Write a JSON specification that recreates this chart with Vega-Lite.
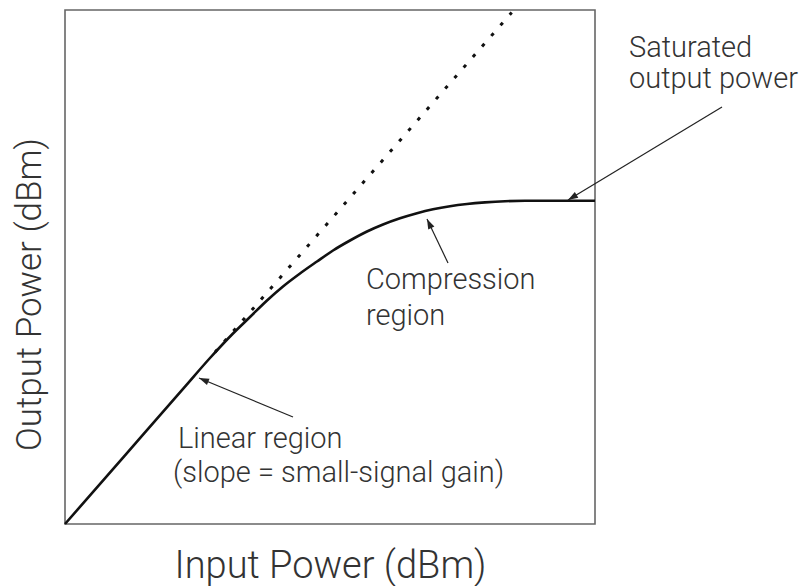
{
  "$schema": "https://vega.github.io/schema/vega-lite/v6.json",
  "width": 530,
  "height": 514,
  "autosize": "none",
  "padding": {"left": 65, "top": 10, "right": 209, "bottom": 62},
  "background": "white",
  "config": {
    "view": {"stroke": "#666666", "strokeWidth": 1.6},
    "font": "Roboto"
  },
  "datasets": {
    "curve": [
      {"x": 0, "y": 0}, {"x": 60, "y": 68.7}, {"x": 120, "y": 137.4}, {"x": 145, "y": 166},
      {"x": 168, "y": 190.5}, {"x": 185, "y": 207}, {"x": 202, "y": 223.5}, {"x": 218, "y": 237.5},
      {"x": 235, "y": 250.5}, {"x": 252, "y": 262.5}, {"x": 268, "y": 273.5}, {"x": 285, "y": 283.5},
      {"x": 302, "y": 292.5}, {"x": 318, "y": 299.5}, {"x": 335, "y": 305.7}, {"x": 352, "y": 310.8},
      {"x": 368, "y": 314.7}, {"x": 385, "y": 317.8}, {"x": 402, "y": 320}, {"x": 420, "y": 321.6},
      {"x": 440, "y": 322.8}, {"x": 460, "y": 323.3}, {"x": 530, "y": 323.3}
    ],
    "ideal": [
      {"x": 150, "y": 171.8}, {"x": 446.7, "y": 511.5}
    ],
    "arrows": [
      {"label": "sat", "x": 657, "y": 417, "x2": 503, "y2": 324},
      {"label": "comp", "x": 383, "y": 261, "x2": 362, "y2": 305},
      {"label": "lin", "x": 228, "y": 107, "x2": 134, "y2": 146}
    ],
    "notes": [
      {"t": "Saturated", "x": 564, "y": 467},
      {"t": "output power", "x": 564, "y": 436},
      {"t": "Compression", "x": 301, "y": 235},
      {"t": "region", "x": 301, "y": 199},
      {"t": "Linear region", "x": 113, "y": 76},
      {"t": "(slope = small-signal gain)", "x": 108, "y": 42}
    ]
  },
  "layer": [
    {
      "data": {"name": "ideal"},
      "mark": {"type": "line", "color": "#111111", "strokeWidth": 3, "strokeDash": [3.5, 10.5], "strokeCap": "butt"},
      "encoding": {
        "x": {"field": "x", "type": "quantitative", "scale": {"domain": [0, 530], "nice": false, "zero": false},
              "axis": {"title": "Input Power (dBm)", "labels": false, "ticks": false, "domain": false, "grid": false,
                       "titleFont": "Roboto", "titleFontSize": 38, "titleFontWeight": 300, "titleColor": "#333333",
                       "titleBaseline": "alphabetic", "titleX": 265, "titleY": 53, "titleAlign": "center"}},
        "y": {"field": "y", "type": "quantitative", "scale": {"domain": [0, 514], "nice": false, "zero": false},
              "axis": {"title": "Output Power (dBm)", "labels": false, "ticks": false, "domain": false, "grid": false,
                       "titleFont": "Roboto", "titleFontSize": 35, "titleFontWeight": 300, "titleColor": "#333333",
                       "titleBaseline": "alphabetic", "titleX": -25, "titleY": 284, "titleAlign": "center", "titleAngle": -90}}
      }
    },
    {
      "data": {"name": "curve"},
      "mark": {"type": "line", "color": "#111111", "strokeWidth": 2.6, "interpolate": "monotone"},
      "encoding": {
        "x": {"field": "x", "type": "quantitative"},
        "y": {"field": "y", "type": "quantitative"}
      }
    },
    {
      "data": {"name": "arrows"},
      "mark": {"type": "rule", "color": "#222222", "strokeWidth": 1.2, "clip": false},
      "encoding": {
        "x": {"field": "x", "type": "quantitative"},
        "y": {"field": "y", "type": "quantitative"},
        "x2": {"field": "x2"},
        "y2": {"field": "y2"}
      }
    },
    {
      "data": {"name": "arrows"},
      "transform": [{"filter": "datum.label === 'sat'"}],
      "mark": {"type": "point", "shape": "M0,0L-0.34,1L0.34,1Z", "filled": true, "color": "#222222", "size": 400, "angle": 239, "opacity": 1, "clip": false},
      "encoding": {
        "x": {"field": "x2", "type": "quantitative"},
        "y": {"field": "y2", "type": "quantitative"}
      }
    },
    {
      "data": {"name": "arrows"},
      "transform": [{"filter": "datum.label === 'comp'"}],
      "mark": {"type": "point", "shape": "M0,0L-0.34,1L0.34,1Z", "filled": true, "color": "#222222", "size": 400, "angle": 334.5, "opacity": 1, "clip": false},
      "encoding": {
        "x": {"field": "x2", "type": "quantitative"},
        "y": {"field": "y2", "type": "quantitative"}
      }
    },
    {
      "data": {"name": "arrows"},
      "transform": [{"filter": "datum.label === 'lin'"}],
      "mark": {"type": "point", "shape": "M0,0L-0.34,1L0.34,1Z", "filled": true, "color": "#222222", "size": 400, "angle": 292.5, "opacity": 1, "clip": false},
      "encoding": {
        "x": {"field": "x2", "type": "quantitative"},
        "y": {"field": "y2", "type": "quantitative"}
      }
    },
    {
      "data": {"name": "notes"},
      "mark": {"type": "text", "align": "left", "baseline": "alphabetic", "fontSize": 29, "fontWeight": 300, "color": "#333333", "font": "Roboto", "clip": false},
      "encoding": {
        "x": {"field": "x", "type": "quantitative"},
        "y": {"field": "y", "type": "quantitative"},
        "text": {"field": "t"}
      }
    }
  ]
}
